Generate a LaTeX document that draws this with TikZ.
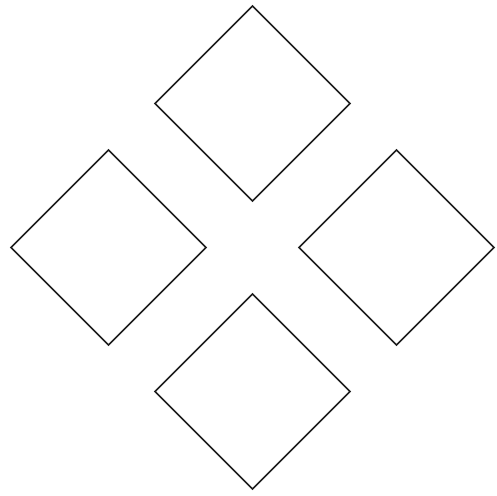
\documentclass[tikz,border=0pt]{standalone}
\begin{document}
\begin{tikzpicture}[x=1pt,y=-1pt,
  tile/.style={draw=black!88,line width=1.5pt,line join=miter}]
\useasboundingbox (0,0) rectangle (497,495);
\newcommand{\tiledia}[2]{\draw[tile] (#1,#2-97.5) -- (#1+97.5,#2) -- (#1,#2+97.5) -- (#1-97.5,#2) -- cycle;}
\tiledia{252.5}{103.5}
\tiledia{108.5}{247.5}
\tiledia{396.5}{247.5}
\tiledia{252.5}{391.5}
\end{tikzpicture}
\end{document}
